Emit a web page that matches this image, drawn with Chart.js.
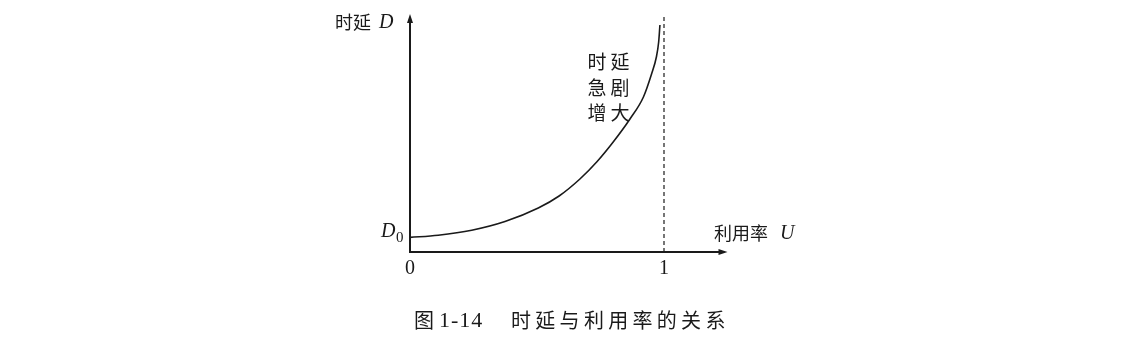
<!DOCTYPE html>
<html>
<head>
<meta charset="utf-8">
<script src="https://cdn.jsdelivr.net/npm/chart.js@4"></script>
<style>
  html, body { margin: 0; padding: 0; background: #fff; }
  #wrap { width: 1137px; height: 363px; }
</style>
</head>
<body>
<div id="wrap"><canvas id="chartDelay" width="1137" height="363"></canvas></div>
<script>
// ── data ─────────────────────────────────────────────────────
const uValues     = [0, 0.111, 0.243, 0.374, 0.505, 0.587, 0.669, 0.735, 0.800, 0.866, 0.919, 0.951, 0.970, 0.979, 0.984];
const delayValues = [14.6, 16.8, 21.8, 30.5, 44, 56, 73, 90, 110, 133, 155, 178, 195, 210, 227];
const limitU      = [1, 1];
const limitD      = [0, 236];
const xTickValues = [0, 1];
const xTickLabels = ['0', '1'];

const INK = '#1a1a1a';
const SERIF = "'Liberation Serif', 'DejaVu Serif', serif";
const CJK = "'Noto Sans CJK SC', sans-serif";

// ── axes, arrows and labels ──────────────────────────────────
const figureDecor = {
  id: 'figureDecor',
  afterDraw(chart) {
    const { ctx, chartArea: a, scales: { x, y } } = chart;
    const x0 = x.getPixelForValue(0), y0 = y.getPixelForValue(0);
    ctx.save();
    ctx.strokeStyle = INK; ctx.fillStyle = INK; ctx.lineWidth = 2;

    // y axis + arrow
    ctx.beginPath(); ctx.moveTo(x0, y0 + 1); ctx.lineTo(x0, a.top + 6); ctx.stroke();
    ctx.beginPath(); ctx.moveTo(x0, a.top); ctx.lineTo(x0 - 3, a.top + 9); ctx.lineTo(x0 + 3, a.top + 9); ctx.closePath(); ctx.fill();
    // x axis + arrow
    ctx.beginPath(); ctx.moveTo(x0 - 1, y0); ctx.lineTo(a.right - 6, y0); ctx.stroke();
    ctx.beginPath(); ctx.moveTo(a.right, y0); ctx.lineTo(a.right - 9, y0 - 3); ctx.lineTo(a.right - 9, y0 + 3); ctx.closePath(); ctx.fill();

    // tick labels
    ctx.textAlign = 'center'; ctx.textBaseline = 'middle';
    ctx.font = `20px ${SERIF}`;
    xTickValues.forEach((v, i) => ctx.fillText(xTickLabels[i], x.getPixelForValue(v), y0 + 17));

    // D0
    ctx.textAlign = 'left'; ctx.textBaseline = 'alphabetic';
    ctx.font = `italic 20px ${SERIF}`;
    ctx.fillText('D', 381, 237);
    ctx.font = `15px ${SERIF}`;
    ctx.fillText('0', 396, 242);

    // y axis title
    ctx.font = `18px ${CJK}`;
    ctx.textBaseline = 'middle';
    ctx.fillText('时延', 335, 22);
    ctx.font = `italic 20px ${SERIF}`;
    ctx.fillText('D', 379, 23);

    // x axis title
    ctx.font = `18px ${CJK}`;
    ctx.fillText('利用率', 714, 233);
    ctx.font = `italic 20px ${SERIF}`;
    ctx.fillText('U', 780, 234);

    // annotation
    ctx.font = `19px ${CJK}`;
    ctx.textAlign = 'center';
    [['时', '延'], ['急', '剧'], ['增', '大']].forEach((row, r) => {
      ctx.fillText(row[0], 597, 62 + r * 25.5);
      ctx.fillText(row[1], 620, 62 + r * 25.5);
    });

    // caption
    ctx.textAlign = 'left';
    ctx.font = `20px ${CJK}`;
    ctx.fillText('图', 414, 320);
    ctx.font = `22px ${SERIF}`;
    ctx.letterSpacing = '1px';
    ctx.fillText('1-14', 439, 321);
    ctx.letterSpacing = '0px';
    ctx.font = `20px ${CJK}`;
    Array.from('时延与利用率的关系').forEach((ch, i) => ctx.fillText(ch, 511 + i * 24.3, 320));
    ctx.restore();
  }
};

new Chart(document.getElementById('chartDelay'), {
  type: 'line',
  data: {
    datasets: [
      {
        label: '时延',
        data: uValues.map((u, i) => ({ x: u, y: delayValues[i] })),
        borderColor: INK, borderWidth: 1.6,
        cubicInterpolationMode: 'monotone',
        pointRadius: 0, fill: false,
      },
      {
        label: 'U = 1',
        data: limitU.map((u, i) => ({ x: u, y: limitD[i] })),
        borderColor: INK, borderWidth: 1.2,
        borderDash: [4, 3],
        pointRadius: 0, fill: false,
      }
    ]
  },
  plugins: [figureDecor],
  options: {
    responsive: false, animation: false,
    layout: { padding: { left: 410, right: 409.5, top: 14, bottom: 111 } },
    plugins: { legend: { display: false }, tooltip: { enabled: false } },
    scales: {
      x: { type: 'linear', min: 0, max: 1.25, display: false },
      y: { type: 'linear', min: 0, max: 238, display: false }
    }
  }
});
</script>
</body>
</html>
